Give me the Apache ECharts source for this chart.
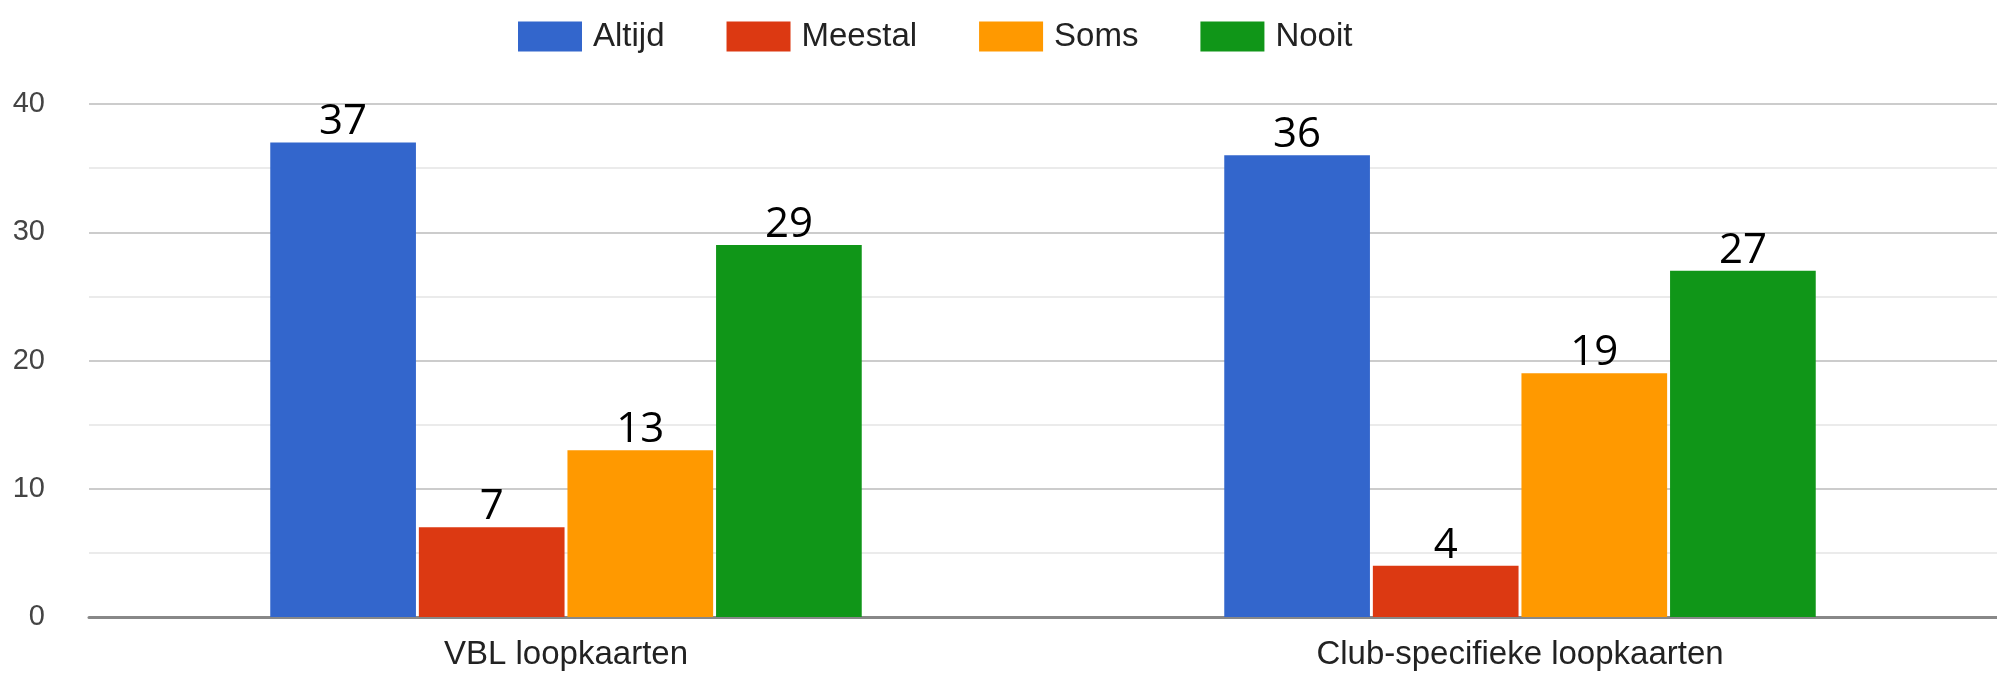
<!DOCTYPE html>
<html>
<head>
<meta charset="utf-8">
<title>Loopkaarten</title>
<script src="https://cdn.jsdelivr.net/npm/echarts@6/dist/echarts.min.js"></script>
<style>
  html, body { margin: 0; padding: 0; background: #fff; }
  #barCharts { width: 1997px; height: 673px; }
</style>
</head>
<body>
<div id="barCharts"></div>
<script>
// categorieën en antwoorden
const categories = ['VBL loopkaarten', 'Club-specifieke loopkaarten'];
const seriesNames = ['Altijd', 'Meestal', 'Soms', 'Nooit'];
const altijd = [37, 36];
const meestal = [7, 4];
const soms = [13, 19];
const nooit = [29, 27];
const yMin = 0, yMax = 40, yStep = 10;

const colors = ['#3366cc', '#dc3912', '#ff9900', '#109618'];
const values = [altijd, meestal, soms, nooit];

const myChart = echarts.init(document.getElementById('barCharts'));

const series = seriesNames.map((name, i) => ({
  name: name,
  type: 'bar',
  data: values[i],
  barGap: '2%',
  barCategoryGap: '38%',
  itemStyle: { color: colors[i] },
  label: {
    show: true,
    position: 'top',
    distance: 2,
    color: '#000',
    fontFamily: 'Open Sans',
    fontSize: 42,
    lineHeight: 36
  }
}));

myChart.setOption({
  animation: false,
  color: colors,
  legend: {
    top: 15,
    left: 513,
    itemWidth: 64,
    itemHeight: 30,
    itemGap: 62,
    icon: 'rect',
    textStyle: { fontFamily: 'Liberation Sans', fontSize: 33, color: '#222', padding: [0, 0, 0, 6] },
    data: seriesNames
  },
  grid: { left: 89, right: -5, top: 104, bottom: 56 },
  xAxis: {
    type: 'category',
    data: categories,
    axisTick: { show: false },
    axisLine: { lineStyle: { color: '#888', width: 3 } },
    axisLabel: { fontFamily: 'Liberation Sans', fontSize: 33, color: '#222', margin: 21 }
  },
  yAxis: {
    type: 'value',
    min: yMin,
    max: yMax,
    interval: yStep,
    axisLine: { show: false },
    axisTick: { show: false },
    axisLabel: { fontFamily: 'Liberation Sans', fontSize: 29, color: '#444', margin: 44 },
    splitLine: { lineStyle: { color: '#ccc', width: 2 } },
    minorTick: { show: false, splitNumber: 2 },
    minorSplitLine: { show: true, lineStyle: { color: '#ebebeb', width: 2 } }
  },
  series: series
});
</script>
</body>
</html>
